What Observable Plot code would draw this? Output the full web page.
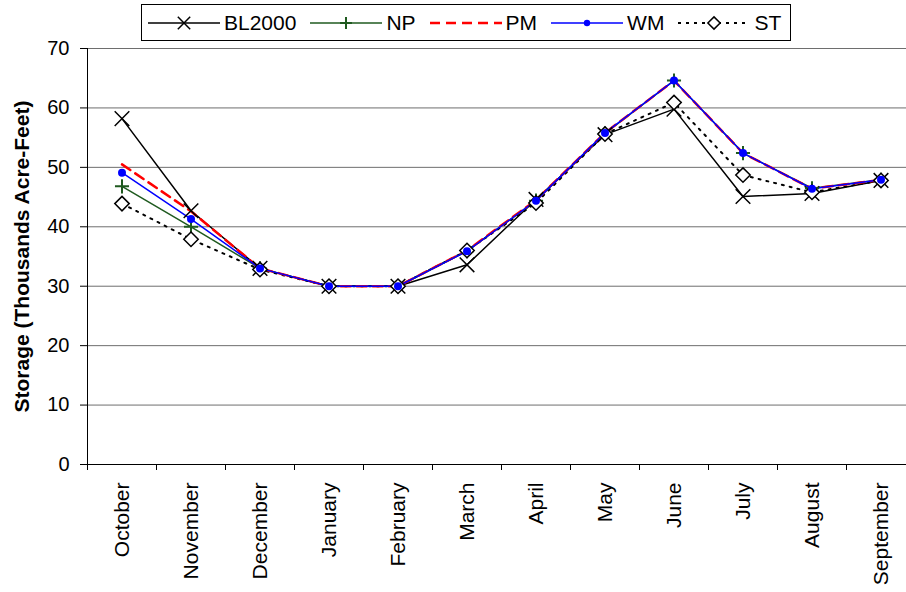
<!DOCTYPE html>
<html>
<head>
<meta charset="utf-8">
<script src="https://cdn.jsdelivr.net/npm/d3@7"></script>
<script src="https://cdn.jsdelivr.net/npm/@observablehq/plot@0.6"></script>
<style>
  html, body { margin: 0; padding: 0; background: white; }
  #wrap { position: relative; width: 906px; height: 592px; overflow: hidden; font-family: "Liberation Sans", Arial, sans-serif; }
  #legend { position: absolute; left: 141px; top: 4px; width: 648px; height: 35px; border: 1px solid black; background: white;
            display: flex; align-items: center; font-size: 21px; color: black; }
  #legend .item { display: flex; align-items: center; margin-left: 7px; margin-right: 7px; }
  #legend .item:first-child { margin-left: 6px; }
  #legend .item span { margin-left: 4px; }
</style>
</head>
<body>
<div id="wrap"><div id="legend"></div></div>
<script>
const months = ["October","November","December","January","February","March","April","May","June","July","August","September"];
const seriesNames = ["BL2000","NP","PM","WM","ST"];
const BL2000 = [58.2, 42.7, 33.0, 30.0, 30.0, 33.6, 44.6, 55.5, 59.8, 45.1, 45.6, 47.8];
const NP     = [46.8, 40.0, 33.0, 30.0, 30.0, 35.9, 44.4, 55.7, 64.6, 52.4, 46.5, 47.9];
const PM     = [50.5, 42.6, 33.0, 30.0, 30.0, 36.0, 44.5, 55.8, 64.6, 52.4, 46.4, 47.9];
const WM     = [49.1, 41.3, 33.0, 30.0, 30.0, 35.9, 44.4, 55.8, 64.6, 52.4, 46.4, 47.9];
const ST     = [43.9, 37.9, 32.8, 30.0, 30.0, 36.0, 44.0, 55.6, 60.9, 48.7, 45.8, 47.8];
const yTicks = [0, 10, 20, 30, 40, 50, 60, 70];
const yTitle = "Storage (Thousands Acre-Feet)";

const valuesByName = {BL2000, NP, PM, WM, ST};
const rows = name => valuesByName[name].map((v, i) => ({i, v}));
const idx = months.map((m, i) => i);
const bounds = d3.range(months.length + 1).map(i => i - 0.5);

const GREEN = "#1f5a1f";
const styles = {
  BL2000: {stroke: "black", strokeWidth: 1.5, symbol: "times", r: 6.7, fill: "none", mw: 1.5},
  NP: {stroke: GREEN, strokeWidth: 1.5, symbol: "plus", r: 4.6, fill: "none", mw: 2},
  PM: {stroke: "#ff0000", strokeWidth: 2.5, dash: "10,6"},
  ST: {stroke: "black", strokeWidth: 2, dash: "2,6", symbol: "diamond2", r: 6.5, fill: "white", mw: 1.5},
  WM: {stroke: "#0000ff", strokeWidth: 1.5, symbol: "circle", r: 4, fill: "#0000ff", mw: 0}
};
const order = ["BL2000", "NP", "ST", "PM", "WM"];

const seriesMarks = [];
for (const name of order) {
  const s = styles[name];
  seriesMarks.push(Plot.line(rows(name), {x: "i", y: "v", stroke: s.stroke, strokeWidth: s.strokeWidth, strokeDasharray: s.dash}));
}
for (const name of order) {
  const s = styles[name];
  if (!s.symbol) continue;
  seriesMarks.push(Plot.dot(rows(name), {x: "i", y: "v", symbol: s.symbol, r: s.r, fill: s.fill,
    stroke: s.mw ? s.stroke : "none", strokeWidth: s.mw}));
}

const chart = Plot.plot({
  width: 906, height: 592,
  marginLeft: 87, marginRight: 0, marginTop: 48, marginBottom: 128,
  style: {fontFamily: "'Liberation Sans', Arial, sans-serif", background: "white", color: "black"},
  x: {type: "linear", domain: [-0.5, 11.5], range: [87, 915]},
  y: {domain: [0, 70]},
  marks: [
    Plot.gridY(yTicks, {stroke: "#6e6e6e", strokeOpacity: 1, strokeWidth: 1}),
    Plot.ruleX([-0.5], {stroke: "black", strokeWidth: 1}),
    Plot.ruleY([0], {stroke: "black", strokeWidth: 1}),
    Plot.axisY(yTicks, {tickSize: 7, tickPadding: 11, fontSize: 20, label: null, stroke: "black"}),
    Plot.axisX(bounds, {tickSize: 6, tickFormat: () => "", label: null, stroke: "black"}),
    Plot.axisX(idx, {tickSize: 0, tickPadding: 18, tickRotate: -90, tickFormat: i => months[i], fontSize: 21, label: null}),
    ...seriesMarks,
    Plot.text([yTitle], {frameAnchor: "left", textAnchor: "middle", rotate: -90, dx: -65, fontWeight: "bold", fontSize: 21, fill: "black"})
  ]
});
d3.select(chart).style("position", "absolute").style("left", "0px").style("top", "0px");
const wrap = document.getElementById("wrap");
wrap.insertBefore(chart, wrap.firstChild);

// Legend
const legend = d3.select("#legend");
const legendOrder = ["BL2000", "NP", "PM", "WM", "ST"];
for (const name of legendOrder) {
  const s = styles[name];
  const item = legend.append("div").attr("class", "item");
  const svg = item.append("svg").attr("width", 72).attr("height", 20);
  svg.append("line").attr("x1", 0).attr("x2", 72).attr("y1", 10).attr("y2", 10)
    .attr("stroke", s.stroke).attr("stroke-width", name === "ST" ? 2 : s.strokeWidth)
    .attr("stroke-dasharray", name === "ST" ? "3,5" : (s.dash || null));
  if (s.symbol) {
    const sym = {times: d3.symbolTimes, plus: d3.symbolPlus, diamond2: d3.symbolDiamond2, circle: d3.symbolCircle}[s.symbol];
    const rr = name === "WM" ? 3.2 : s.r * 0.85;
    svg.append("path").attr("transform", "translate(36,10)")
      .attr("d", d3.symbol(sym, Math.PI * rr * rr)())
      .attr("fill", s.fill).attr("stroke", s.mw ? s.stroke : "none").attr("stroke-width", s.mw);
  }
  item.append("span").text(name);
}
</script>
</body>
</html>
